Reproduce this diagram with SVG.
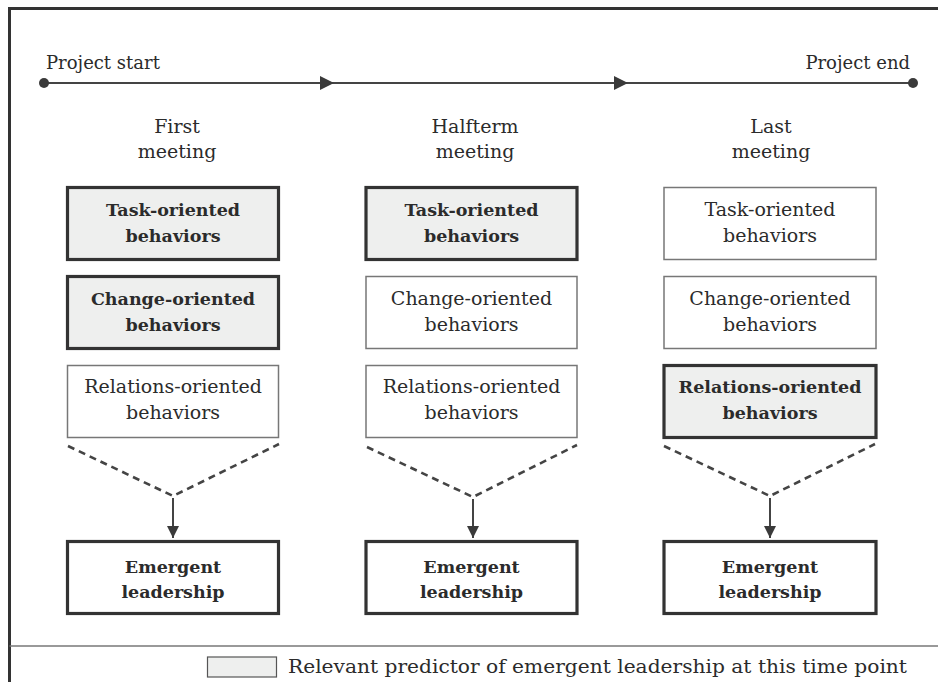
<svg xmlns="http://www.w3.org/2000/svg" width="938" height="682" viewBox="0 0 938 682">
<defs>
<style>
text{font-family:"DejaVu Serif","Liberation Serif",serif;fill:#2b2b2b;font-size:19px}
.c{text-anchor:middle}
.b{font-weight:bold;font-size:17.5px}
.key{fill:#eeefee;stroke:#333;stroke-width:3.2}
.plain{fill:#fff;stroke:#777;stroke-width:1.5}
.out{fill:#fff;stroke:#333;stroke-width:3.2}
.dash{fill:none;stroke:#444;stroke-width:2.6;stroke-dasharray:7 5}
.ln{stroke:#444;stroke-width:2;fill:none}
</style>
<marker id="ah" viewBox="0 0 10 10" refX="10" refY="5" markerWidth="12" markerHeight="12" markerUnits="userSpaceOnUse" orient="auto">
<path d="M0,0L10,5L0,10z" fill="#3a3a3a"/>
</marker>
</defs>
<rect width="938" height="682" fill="#fff"/>
<path d="M9.5,682V8.5H938" fill="none" stroke="#333" stroke-width="3"/>
<line x1="9.5" y1="646" x2="938" y2="646" stroke="#777" stroke-width="1.5"/>

<g id="timeline">
<line class="ln" x1="44" y1="83" x2="913" y2="83"/>
<circle cx="44" cy="83" r="5" fill="#3a3a3a"/>
<circle cx="913" cy="83" r="5" fill="#3a3a3a"/>
<path d="M320,76L334,83L320,90z" fill="#3a3a3a"/>
<path d="M614,76L628,83L614,90z" fill="#3a3a3a"/>
<text x="46" y="69" style="font-size:18px">Project start</text>
<text x="910" y="69" text-anchor="end" style="font-size:18px">Project end</text>
</g>

<g id="col1">
<text class="c" x="177" y="133">First</text>
<text class="c" x="177" y="158">meeting</text>
<g id="task1"><rect class="key" x="67.5" y="187.5" width="211" height="72"/><text class="c b" x="173" y="216">Task-oriented</text><text class="c b" x="173" y="242">behaviors</text></g>
<g id="change1"><rect class="key" x="67.5" y="276.5" width="211" height="72"/><text class="c b" x="173" y="305">Change-oriented</text><text class="c b" x="173" y="331">behaviors</text></g>
<g id="rel1"><rect class="plain" x="67.5" y="365.5" width="211" height="72"/><text class="c" x="173" y="393">Relations-oriented</text><text class="c" x="173" y="419">behaviors</text></g>
<g id="em1"><rect class="out" x="67.5" y="541.5" width="211" height="72"/><text class="c b" x="173" y="573">Emergent</text><text class="c b" x="173" y="598">leadership</text></g>
</g>

<g id="col2">
<text class="c" x="475" y="133">Halfterm</text>
<text class="c" x="475" y="158">meeting</text>
<g id="task2"><rect class="key" x="366" y="187.5" width="211" height="72"/><text class="c b" x="471.5" y="216">Task-oriented</text><text class="c b" x="471.5" y="242">behaviors</text></g>
<g id="change2"><rect class="plain" x="366" y="276.5" width="211" height="72"/><text class="c" x="471.5" y="305">Change-oriented</text><text class="c" x="471.5" y="331">behaviors</text></g>
<g id="rel2"><rect class="plain" x="366" y="365.5" width="211" height="72"/><text class="c" x="471.5" y="393">Relations-oriented</text><text class="c" x="471.5" y="419">behaviors</text></g>
<g id="em2"><rect class="out" x="366" y="541.5" width="211" height="72"/><text class="c b" x="471.5" y="573">Emergent</text><text class="c b" x="471.5" y="598">leadership</text></g>
</g>

<g id="col3">
<text class="c" x="771" y="133">Last</text>
<text class="c" x="771" y="158">meeting</text>
<g id="task3"><rect class="plain" x="664" y="187.5" width="212" height="72"/><text class="c" x="770" y="216">Task-oriented</text><text class="c" x="770" y="242">behaviors</text></g>
<g id="change3"><rect class="plain" x="664" y="276.5" width="212" height="72"/><text class="c" x="770" y="305">Change-oriented</text><text class="c" x="770" y="331">behaviors</text></g>
<g id="rel3"><rect class="key" x="664" y="365.5" width="212" height="72"/><text class="c b" x="770" y="393">Relations-oriented</text><text class="c b" x="770" y="419">behaviors</text></g>
<g id="em3"><rect class="out" x="664" y="541.5" width="212" height="72"/><text class="c b" x="770" y="573">Emergent</text><text class="c b" x="770" y="598">leadership</text></g>
</g>

<g id="connectors">
<path class="dash" d="M68,446L173,496L279,444"/>
<line class="ln" x1="173" y1="498" x2="173" y2="538" marker-end="url(#ah)"/>
<path class="dash" d="M367,447L473,497L577,445"/>
<line class="ln" x1="473" y1="499" x2="473" y2="538" marker-end="url(#ah)"/>
<path class="dash" d="M664,446L770,496L875,444"/>
<line class="ln" x1="770" y1="498" x2="770" y2="538" marker-end="url(#ah)"/>
</g>

<g id="legend">
<rect x="207.5" y="657" width="69" height="20" fill="#eeefee" stroke="#555" stroke-width="1.2"/>
<text x="288" y="673" textLength="619" lengthAdjust="spacingAndGlyphs">Relevant predictor of emergent leadership at this time point</text>
</g>
</svg>
